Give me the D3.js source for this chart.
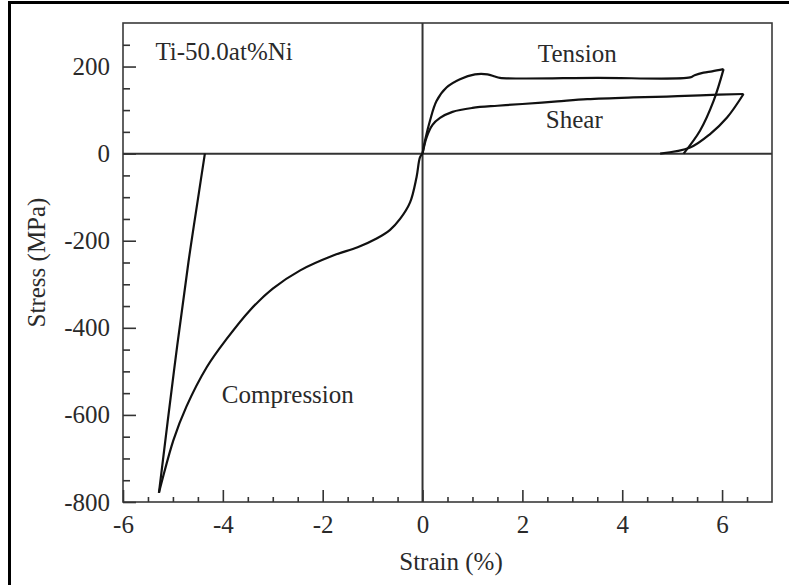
<!DOCTYPE html>
<html><head><meta charset="utf-8">
<script src="https://cdn.jsdelivr.net/npm/d3@7"></script>
<style>html,body{margin:0;padding:0;background:#fff;overflow:hidden}</style>
</head><body>
<svg id="c" width="789" height="585"></svg>
<script>
// ---- data (strain %, stress MPa) ----
const compressionLoad = [[0,0],[-0.05,-8],[-0.12,-54],[-0.25,-112],[-0.45,-150],[-0.65,-175],[-0.92,-195],[-1.3,-215],[-1.79,-234],[-2.45,-268],[-3.0,-310],[-3.46,-360],[-3.92,-425],[-4.32,-490],[-4.73,-581],[-4.99,-658],[-5.28,-779]];
const compressionUnload = [[-5.28,-779],[-4.98,-500],[-4.69,-250],[-4.48,-90],[-4.36,0]];
const tensionLoad = [[0,0],[0.05,30],[0.15,76],[0.28,121],[0.48,152],[0.75,171],[1.05,182],[1.3,182],[1.45,177],[1.55,174],[3.5,174],[5.36,175],[5.45,180],[5.63,186],[5.8,189],[6.03,194]];
const tensionUnload = [[6.03,194],[5.83,121],[5.56,53],[5.23,0]];
const shearLoad = [[0,0],[0.08,37],[0.2,66],[0.35,82],[0.6,96],[1.0,105],[1.5,110],[2.0,114],[2.7,120],[3.3,125],[4.22,129],[4.89,131],[5.56,134],[6.43,137]];
const shearUnload = [[6.43,137],[6.1,83],[5.76,45],[5.36,14],[4.76,0]];
const xMajor = [-6,-4,-2,0,2,4,6];
const xMinor = [-5.5,-5,-4.5,-3.5,-3,-2.5,-1.5,-1,-0.5,0.5,1,1.5,2.5,3,3.5,4.5,5,5.5,6.5];
const yMajor = [-800,-600,-400,-200,0,200];
const yMinor = [-750,-700,-650,-550,-500,-450,-350,-300,-250,-150,-100,-50,50,100,150,250];
const labels = [
  {text:"Ti-50.0at%Ni", x:-5.35, y:215},
  {text:"Tension", x:2.31, y:210},
  {text:"Shear", x:2.47, y:60},
  {text:"Compression", x:-4.02, y:-573}
];

const svg = d3.select("#c");
const FONT = "'Liberation Serif','Times New Roman',serif";
const FS = 25;
const L=123, R=772, T=23, B=502;
const x = d3.scaleLinear().domain([-6,7]).range([L,R]);
const y = d3.scaleLinear().domain([-800,300]).range([B,T]);

// outer frame
svg.append("rect").attr("x",9.5).attr("y",2.5).attr("width",800).attr("height",620)
  .attr("fill","none").attr("stroke","#000").attr("stroke-width",3);

// plot box
svg.append("rect").attr("x",L).attr("y",T).attr("width",R-L).attr("height",B-T)
  .attr("fill","none").attr("stroke","#3a3a3a").attr("stroke-width",1.6);

// zero lines
svg.append("line").attr("x1",L).attr("x2",R).attr("y1",y(0)).attr("y2",y(0))
  .attr("stroke","#333").attr("stroke-width",2);
svg.append("line").attr("x1",x(0)).attr("x2",x(0)).attr("y1",T).attr("y2",B)
  .attr("stroke","#333").attr("stroke-width",2);

const fmt = d => String(d);
function styleAxis(g){
  g.select(".domain").remove();
  g.selectAll(".tick line").attr("stroke","#333").attr("stroke-width",1.6);
  g.selectAll("text").attr("font-family",FONT).attr("font-size",FS).attr("fill","#2a2a2a");
}
// x axis
svg.append("g").attr("transform",`translate(0,${B})`)
  .call(d3.axisBottom(x).tickValues(xMajor).tickSize(-12).tickPadding(13).tickFormat(fmt))
  .call(styleAxis);
svg.append("g").attr("transform",`translate(0,${B})`)
  .call(d3.axisBottom(x).tickValues(xMinor).tickSize(-5).tickFormat(""))
  .call(styleAxis);
// y axis
svg.append("g").attr("transform",`translate(${L},0)`)
  .call(d3.axisLeft(y).tickValues(yMajor).tickSize(-13).tickPadding(13).tickFormat(fmt))
  .call(styleAxis);
svg.append("g").attr("transform",`translate(${L},0)`)
  .call(d3.axisLeft(y).tickValues(yMinor).tickSize(-7).tickFormat(""))
  .call(styleAxis);

// axis titles
svg.append("text").attr("x",451).attr("y",570).attr("text-anchor","middle")
  .attr("font-family",FONT).attr("font-size",FS).attr("fill","#2a2a2a").text("Strain (%)");
svg.append("text").attr("transform",`translate(45,${(T+B)/2}) rotate(-90)`)
  .attr("text-anchor","middle")
  .attr("font-family",FONT).attr("font-size",FS).attr("fill","#2a2a2a").text("Stress (MPa)");

// curves
const line = d3.line().x(d=>x(d[0])).y(d=>y(d[1])).curve(d3.curveCatmullRom.alpha(0.5));
[compressionLoad,compressionUnload,tensionLoad,tensionUnload,shearLoad,shearUnload].forEach(s=>{
  svg.append("path").attr("d",line(s)).attr("fill","none")
    .attr("stroke","#111").attr("stroke-width",2.2).attr("stroke-linejoin","round");
});

// annotations
labels.forEach(l=>{
  svg.append("text").attr("x",x(l.x)).attr("y",y(l.y))
    .attr("font-family",FONT).attr("font-size",FS).attr("fill","#2a2a2a").text(l.text);
});
</script>
</body></html>
